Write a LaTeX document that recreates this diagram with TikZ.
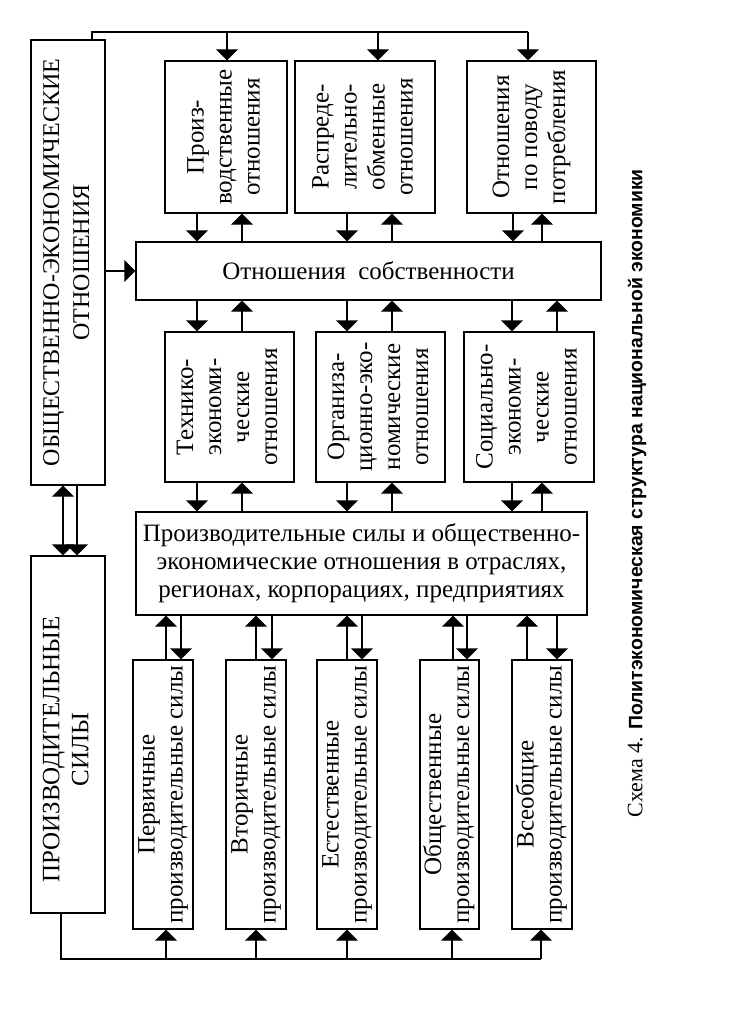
\documentclass[tikz,border=0pt]{standalone}
\usepackage{fontspec}
\usepackage{graphicx}
\setmainfont{Liberation Serif}
\newfontfamily\capfont{Liberation Sans}
\usetikzlibrary{arrows.meta}

\tikzstyle{box} = [rectangle, draw=black, line width=1.4pt, inner sep=0pt, text centered, font=\fontsize{25}{28}\selectfont]
\tikzstyle{wire} = [line width=1.4pt]
\tikzstyle{arrow} = [line width=1.4pt,-{Triangle[width=22pt,length=11pt]}]
\tikzstyle{dblarrow} = [line width=1.4pt,{Triangle[width=22pt,length=11pt]}-{Triangle[width=22pt,length=11pt]}]

\newcommand{\vlines}[1]{\rotatebox{90}{\begin{tabular}{@{}c@{}}#1\end{tabular}}}

\begin{document}
\begin{tikzpicture}[x=1pt,y=-1pt]
  \useasboundingbox (0,0) rectangle (737,1022);

  \node (seo) [box, minimum width=74pt, minimum height=445pt, font=\fontsize{24}{30}\selectfont] at (68,262.5) {\vlines{ОБЩЕСТВЕННО-ЭКОНОМИЧЕСКИЕ\\ОТНОШЕНИЯ}};
  \node (ps) [box, minimum width=74pt, minimum height=357pt, font=\fontsize{25}{29}\selectfont] at (68,734.5) {\rotatebox{90}{\begin{tabular}{@{}c@{}}ПРОИЗВОДИТЕЛЬНЫЕ\\СИЛЫ\end{tabular}\hspace{30pt}}};

  \node (prod) [box, minimum width=122pt, minimum height=152pt] at (226,137) {\vlines{Произ-\\водственные\\отношения}};
  \node (distr) [box, minimum width=140pt, minimum height=152pt] at (365,137) {\vlines{Распреде-\\лительно-\\обменные\\отношения}};
  \node (cons) [box, minimum width=129pt, minimum height=152pt] at (531.5,137) {\vlines{Отношения\\по поводу\\потребления}};

  \node (own) [box, minimum width=465pt, minimum height=58pt] at (368.5,271) {Отношения~~собственности};

  \node (tech) [box, minimum width=129pt, minimum height=150pt] at (229.5,407) {\vlines{Технико-\\экономи-\\ческие\\отношения}};
  \node (org) [box, minimum width=129pt, minimum height=150pt] at (380.5,407) {\vlines{Организа-\\ционно-эко-\\номические\\отношения}};
  \node (soc) [box, minimum width=130pt, minimum height=150pt] at (529,407) {\vlines{Социально-\\экономи-\\ческие\\отношения}};

  \node (sector) [box, minimum width=451pt, minimum height=103pt] at (361.5,563.5) {\begin{tabular}{@{}c@{}}Производительные силы и общественно-\\экономические отношения в отраслях,\\регионах, корпорациях, предприятиях\end{tabular}};

  \node (prim) [box, minimum width=60pt, minimum height=269pt] at (163,794.5) {\vlines{Первичные\\производительные силы}};
  \node (sec) [box, minimum width=60pt, minimum height=269pt] at (256,794.5) {\vlines{Вторичные\\производительные силы}};
  \node (nat) [box, minimum width=60pt, minimum height=269pt] at (347,794.5) {\vlines{Естественные\\производительные силы}};
  \node (pub) [box, minimum width=59pt, minimum height=269pt] at (449.5,794.5) {\vlines{Общественные\\производительные силы}};
  \node (univ) [box, minimum width=60pt, minimum height=269pt] at (542,794.5) {\vlines{Всеобщие\\производительные силы}};

  \node (caption) [rotate=90, font=\fontsize{22}{26}\selectfont] at (637,493.5) {Схема 4. {\capfont\bfseries\fontsize{19.4}{24}\selectfont Политэкономическая структура национальной экономики}};

  % top and bottom buses
  \coordinate (topbus) at (0,32);
  \coordinate (botbus) at (0,959);
  \draw [wire] ([xshift=24pt]seo.north) |- (topbus -| 528,0);
  \foreach \n/\x in {prod/227, distr/378, cons/528}
    \draw [arrow] (topbus -| \x,0) -- (\n.north -| \x,0);
  \draw [wire] ([xshift=-7pt]ps.south) |- (botbus -| 541,0);
  \foreach \n/\x in {prim/166, sec/256, nat/347, pub/452, univ/541}
    \draw [arrow] (botbus -| \x,0) -- (\n.south -| \x,0);

  % left column
  \draw [dblarrow] (seo.south -| 63,0) -- (ps.north -| 63,0);
  \draw [arrow] (seo.south -| 77,0) -- (ps.north -| 77,0);
  \draw [arrow] (seo.east |- own.west) -- (own.west);

  \foreach \n/\d/\u in {prod/197/242, distr/347/392, cons/513/542} {
    \draw [arrow] (\n.south -| \d,0) -- (own.north -| \d,0);
    \draw [arrow] (own.north -| \u,0) -- (\n.south -| \u,0);
  }
  \foreach \n/\d/\u in {tech/197/242, org/347/392, soc/512/557} {
    \draw [arrow] (own.south -| \d,0) -- (\n.north -| \d,0);
    \draw [arrow] (\n.north -| \u,0) -- (own.south -| \u,0);
  }
  \foreach \n/\d/\u in {tech/197/242, org/347/392, soc/512/542} {
    \draw [arrow] (\n.south -| \d,0) -- (sector.north -| \d,0);
    \draw [arrow] (sector.north -| \u,0) -- (\n.south -| \u,0);
  }
  \foreach \n/\u/\d in {prim/166/181, sec/256/272, nat/347/362, pub/453/467, univ/527/557} {
    \draw [arrow] (\n.north -| \u,0) -- (sector.south -| \u,0);
    \draw [arrow] (sector.south -| \d,0) -- (\n.north -| \d,0);
  }
\end{tikzpicture}
\end{document}
